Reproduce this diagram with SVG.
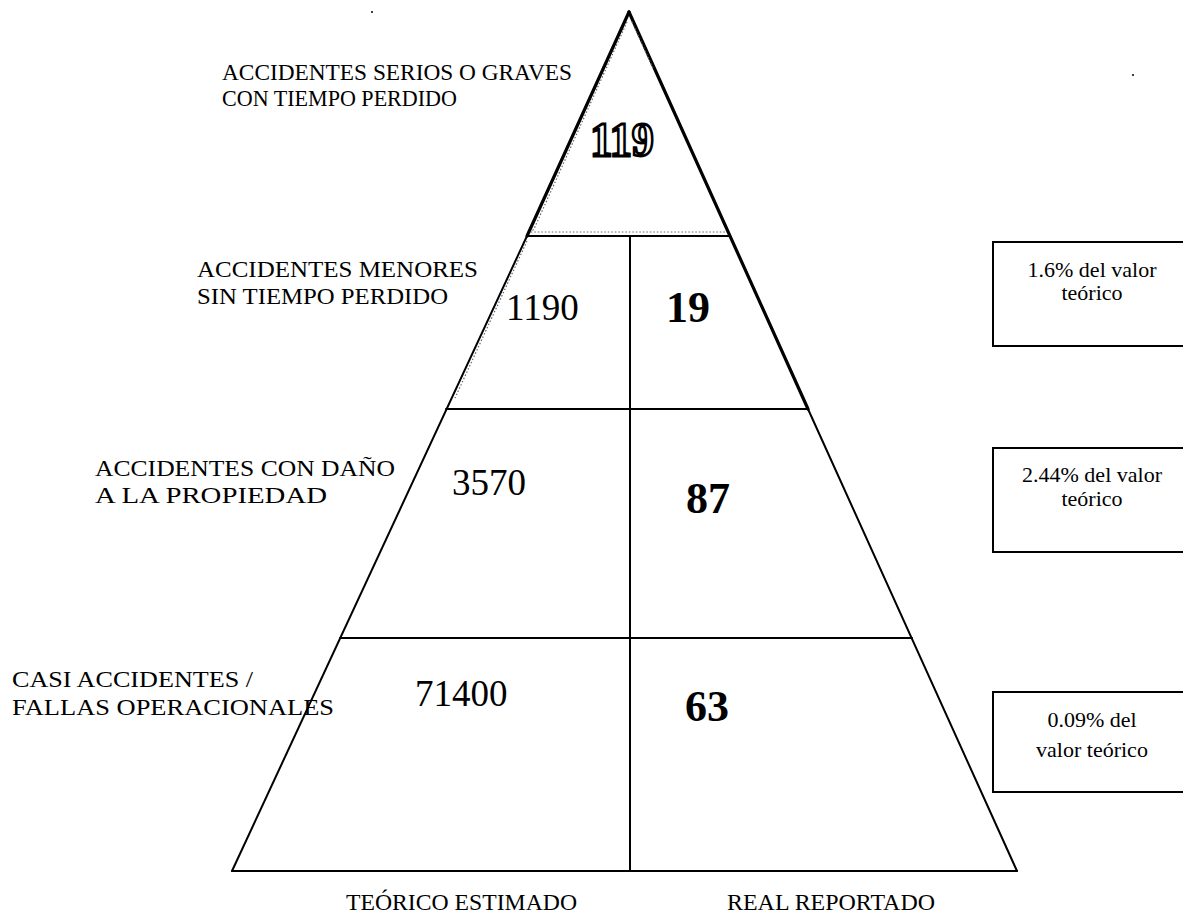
<svg xmlns="http://www.w3.org/2000/svg" width="1183" height="916" viewBox="0 0 1183 916">
  <style>
    .lbl { font-family: "Liberation Serif", "Times New Roman", serif; font-size: 23px; fill: #000; }
    .big { font-family: "Liberation Serif", "Times New Roman", serif; font-size: 37px; fill: #000; }
    .bold { font-family: "Liberation Serif", "Times New Roman", serif; font-size: 44px; font-weight: bold; fill: #000; }
    .note { font-family: "Liberation Serif", "Times New Roman", serif; font-size: 22px; fill: #000; text-anchor: middle; }
    .edge { stroke: #000; stroke-width: 2; fill: none; stroke-linecap: round; }
    .thick { stroke: #000; stroke-width: 3.2; fill: none; stroke-linecap: round; }
    .dots { stroke: #666; stroke-width: 1.2; fill: none; stroke-dasharray: 1.5 2; }
    .box { stroke: #000; stroke-width: 2; fill: #fff; }
  </style>
  <rect width="1183" height="916" fill="#fff"/>

  <!-- pyramid outline and divisions -->
  <g id="connectors">
    <line class="thick" x1="629" y1="12" x2="527" y2="236"/>
    <line class="edge" x1="527" y1="236" x2="232" y2="871"/>
    <line class="thick" x1="629" y1="12" x2="808" y2="409"/>
    <line class="edge" x1="808" y1="409" x2="1017" y2="871"/>
    <line class="edge" x1="232" y1="871" x2="1017" y2="871"/>
    <line class="edge" x1="527" y1="236" x2="730" y2="236"/>
    <line class="edge" x1="446" y1="409" x2="808" y2="409"/>
    <line class="edge" x1="340" y1="638" x2="912" y2="638"/>
    <line class="edge" x1="630" y1="236" x2="630" y2="871"/>
    <!-- fine dotted trace inside the top tiers -->
    <polyline class="dots" points="627,22 534,229 531,232 727,232"/>
    <line class="dots" x1="632" y1="22" x2="653" y2="68"/>
    <line class="dots" x1="527" y1="241" x2="455" y2="398"/>
  </g>

  <!-- tier 1: serious accidents -->
  <g id="tier1">
    <text class="lbl" x="222" y="80" textLength="350" lengthAdjust="spacingAndGlyphs">ACCIDENTES SERIOS O GRAVES</text>
    <text class="lbl" x="222" y="106" textLength="235" lengthAdjust="spacingAndGlyphs">CON TIEMPO PERDIDO</text>
    <text transform="translate(622,156) scale(0.9,1)" text-anchor="middle" font-family="Liberation Serif, serif" font-weight="bold" font-size="49" fill="#fff" stroke="#000" stroke-width="2.8">119</text>
  </g>

  <!-- tier 2: minor accidents -->
  <g id="tier2">
    <text class="lbl" x="197" y="277" textLength="281" lengthAdjust="spacingAndGlyphs">ACCIDENTES MENORES</text>
    <text class="lbl" x="197" y="304" textLength="251" lengthAdjust="spacingAndGlyphs">SIN TIEMPO PERDIDO</text>
    <text class="big" x="506" y="320">1190</text>
    <text class="bold" x="666" y="322">19</text>
  </g>

  <!-- tier 3: property damage -->
  <g id="tier3">
    <text class="lbl" x="95" y="476" textLength="300" lengthAdjust="spacingAndGlyphs">ACCIDENTES CON DAÑO</text>
    <text class="lbl" x="95" y="503" textLength="232" lengthAdjust="spacingAndGlyphs">A LA PROPIEDAD</text>
    <text class="big" x="452" y="495">3570</text>
    <text class="bold" x="686" y="513">87</text>
  </g>

  <!-- tier 4: near misses -->
  <g id="tier4">
    <text class="lbl" x="12" y="687" textLength="241" lengthAdjust="spacingAndGlyphs">CASI ACCIDENTES /</text>
    <text class="lbl" x="12" y="715" textLength="322" lengthAdjust="spacingAndGlyphs">FALLAS OPERACIONALES</text>
    <text class="big" x="415" y="706">71400</text>
    <text class="bold" x="685" y="721">63</text>
  </g>

  <!-- column captions -->
  <g id="captions">
    <text class="lbl" x="346" y="910" textLength="231" lengthAdjust="spacingAndGlyphs">TEÓRICO ESTIMADO</text>
    <text class="lbl" x="727" y="910" textLength="208" lengthAdjust="spacingAndGlyphs">REAL REPORTADO</text>
  </g>

  <!-- percentage boxes -->
  <g id="box1">
    <rect class="box" x="993" y="242" width="192" height="104"/>
    <text class="note" x="1092" y="277">1.6% del valor</text>
    <text class="note" x="1092" y="300">teórico</text>
  </g>
  <g id="box2">
    <rect class="box" x="993" y="448" width="192" height="104"/>
    <text class="note" x="1092" y="482">2.44% del valor</text>
    <text class="note" x="1092" y="506">teórico</text>
  </g>
  <g id="box3">
    <rect class="box" x="993" y="692" width="192" height="100"/>
    <text class="note" x="1092" y="727" font-size="25">0.09% del</text>
    <text class="note" x="1092" y="757" font-size="25">valor teórico</text>
  </g>

  <!-- specks -->
  <circle cx="372" cy="12" r="1" fill="#000"/>
  <circle cx="1133" cy="75" r="1" fill="#000"/>
</svg>
